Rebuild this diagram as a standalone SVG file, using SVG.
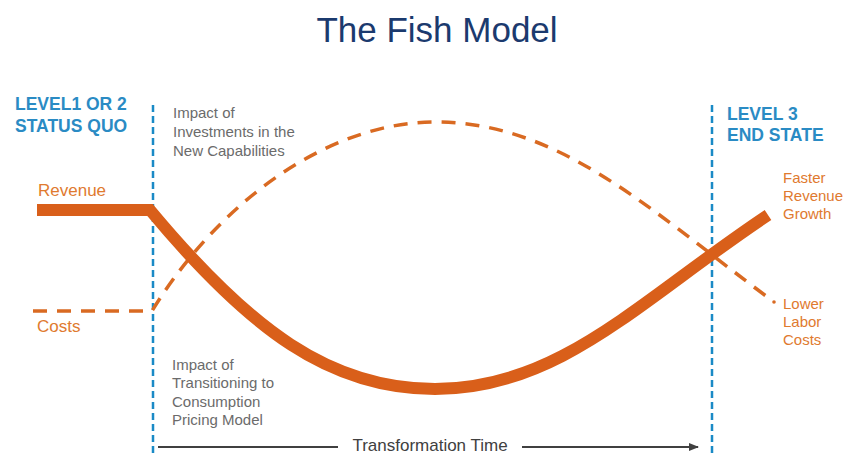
<svg xmlns="http://www.w3.org/2000/svg" width="846" height="455" viewBox="0 0 846 455">
<defs>
<style>
.t{font-family:"Liberation Sans",Arial,sans-serif}
.lvl{font-size:17.5px;font-weight:bold;fill:#2a8bc4}
.or{font-size:17px;fill:#e07a2f}
.ors{font-size:15px;fill:#e07a2f}
.gr{font-size:15px;fill:#6b6b6b}
.vd{stroke:#1a8ac6;stroke-width:2.5;stroke-dasharray:7,4;fill:none}
</style>
<marker id="ah" markerWidth="10" markerHeight="8" refX="9" refY="4" orient="auto" markerUnits="userSpaceOnUse">
<path d="M0,0 L10,4 L0,8 Z" fill="#404040"/>
</marker>
</defs>
<rect width="846" height="455" fill="#ffffff"/>
<text class="t" x="437" y="42" text-anchor="middle" font-size="35" fill="#1b3a6e">The Fish Model</text>
<g id="dividers">
<line class="vd" x1="153" y1="105" x2="153" y2="455"/>
<line class="vd" x1="712" y1="105" x2="712" y2="455"/>
</g>
<g id="connectors">
<path id="costs-curve" d="M33,311 L152,311 C220,200 330,122 435,122 C560,122 650,210 770,299" fill="none" stroke="#d96a22" stroke-width="3.5" stroke-dasharray="14,10"/>
<path id="revenue-curve" d="M37,210 L150,210 C250,330 330,389 435,389 C560,389 640,300 768,215" fill="none" stroke="#d95f1a" stroke-width="12"/>
<circle cx="774" cy="302" r="1.8" fill="#d96a22"/>
<line x1="158" y1="447" x2="338" y2="447" stroke="#404040" stroke-width="2"/>
<line x1="522" y1="447" x2="698" y2="447" stroke="#404040" stroke-width="2" marker-end="url(#ah)"/>
</g>
<g id="left-label">
<text class="t lvl" x="15" y="110">LEVEL1 OR 2</text>
<text class="t lvl" x="15" y="132">STATUS QUO</text>
</g>
<g id="right-label">
<text class="t lvl" x="727" y="120">LEVEL 3</text>
<text class="t lvl" x="727" y="141">END STATE</text>
</g>
<g id="revenue-label"><text class="t or" x="38" y="196">Revenue</text></g>
<g id="costs-label"><text class="t or" x="37" y="332">Costs</text></g>
<g id="investments-note">
<text class="t gr" x="173" y="118">Impact of</text>
<text class="t gr" x="173" y="137">Investments in the</text>
<text class="t gr" x="173" y="156">New Capabilities</text>
</g>
<g id="transition-note">
<text class="t gr" x="172" y="370">Impact of</text>
<text class="t gr" x="172" y="388">Transitioning to</text>
<text class="t gr" x="172" y="407">Consumption</text>
<text class="t gr" x="172" y="425">Pricing Model</text>
</g>
<g id="faster-growth">
<text class="t ors" x="783" y="183">Faster</text>
<text class="t ors" x="783" y="201">Revenue</text>
<text class="t ors" x="783" y="219">Growth</text>
</g>
<g id="lower-costs">
<text class="t ors" x="783" y="309">Lower</text>
<text class="t ors" x="783" y="327">Labor</text>
<text class="t ors" x="783" y="345">Costs</text>
</g>
<g id="time-axis"><text class="t" x="430" y="451" text-anchor="middle" font-size="17" fill="#404040">Transformation Time</text></g>
</svg>
